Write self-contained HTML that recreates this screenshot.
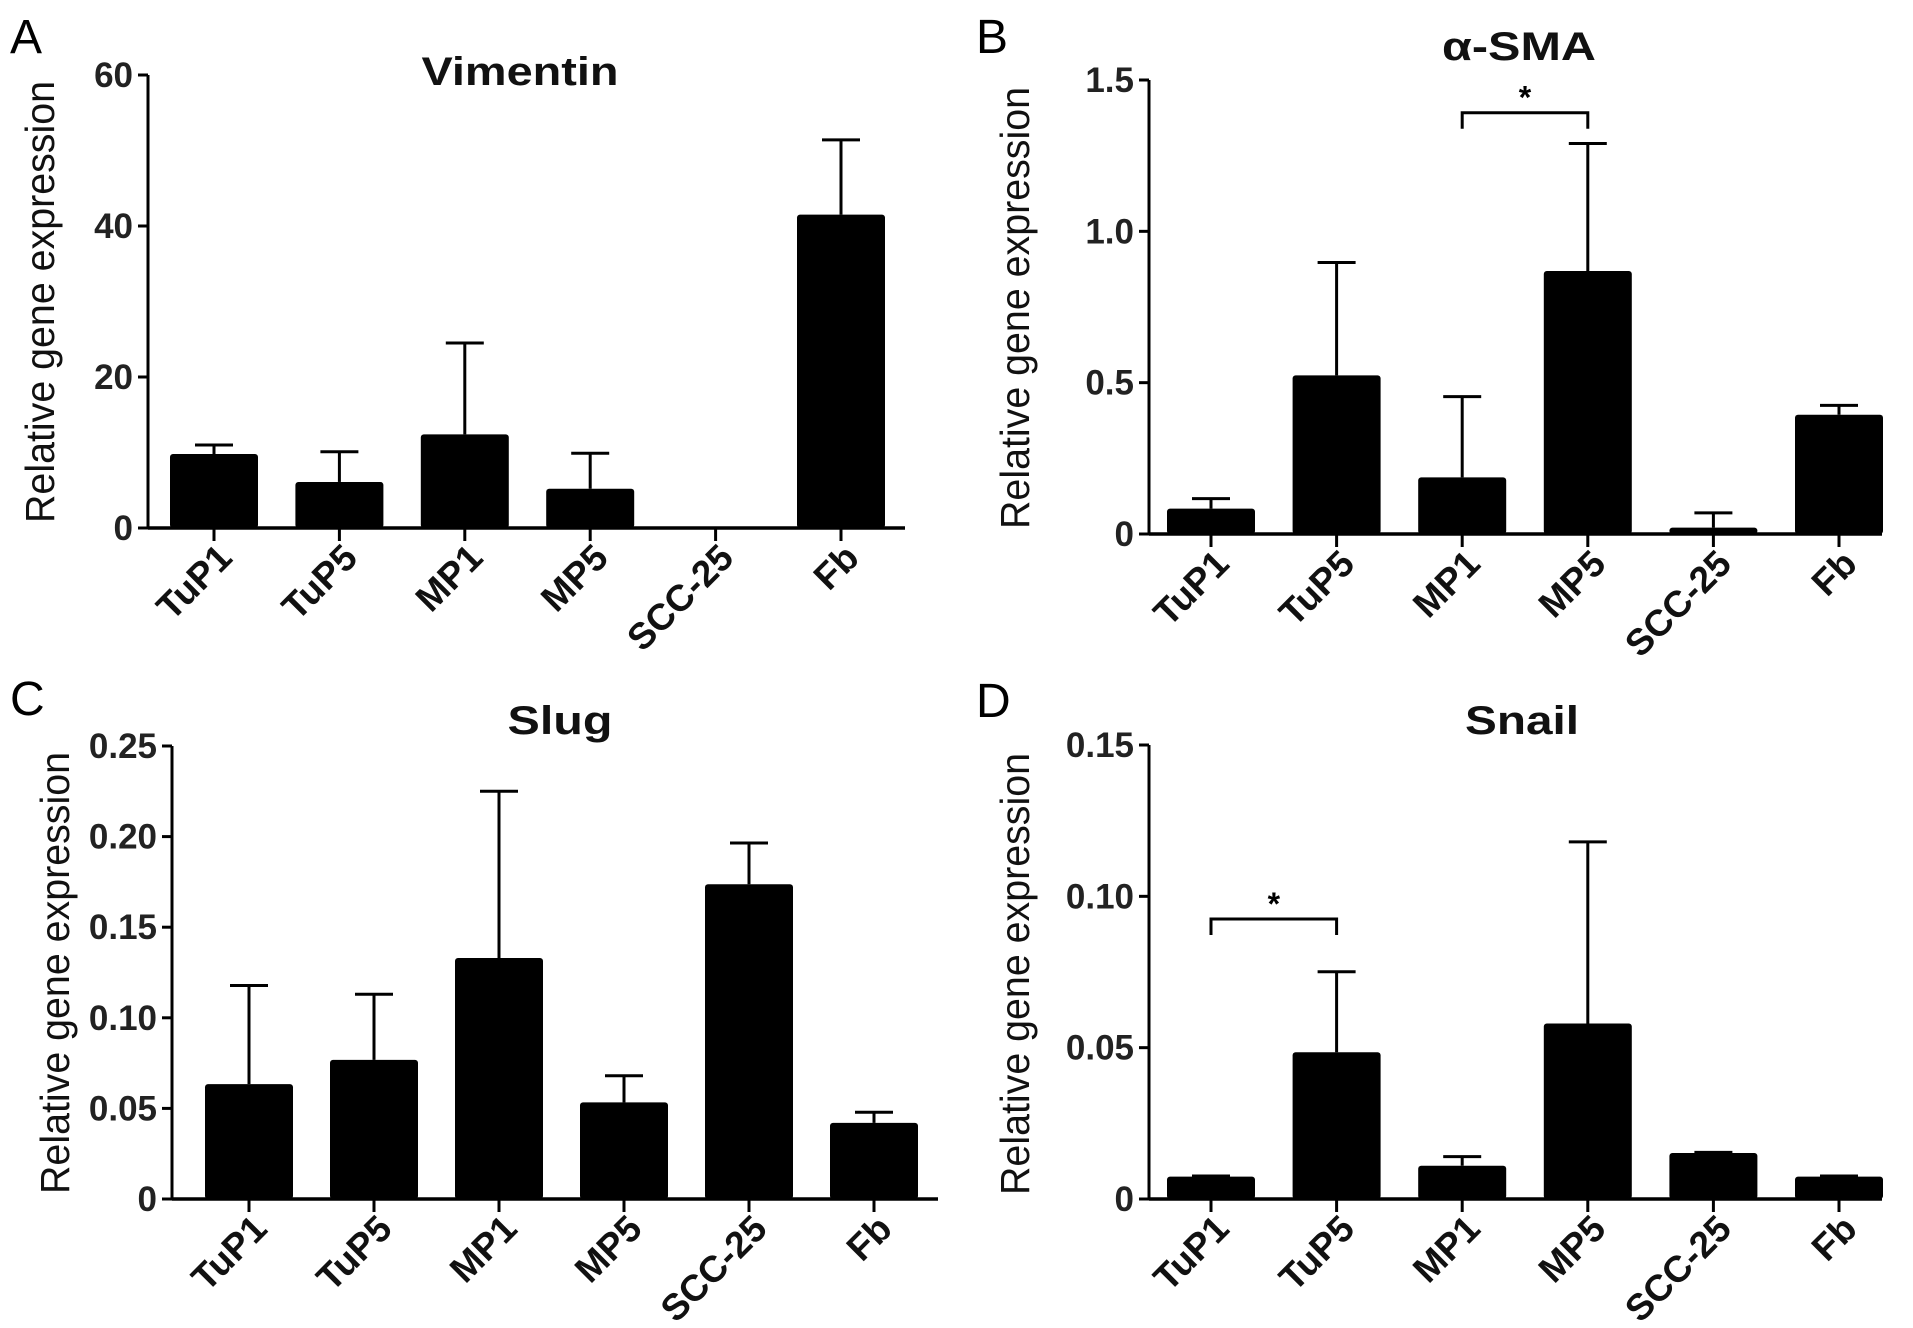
<!DOCTYPE html>
<html><head><meta charset="utf-8"><style>
html,body{margin:0;padding:0;background:#fff;overflow:hidden;}
svg{display:block;font-family:"Liberation Sans",Arial,sans-serif;}
</style></head><body>
<svg id="fig" width="1913" height="1328" viewBox="0 0 1913 1328"></svg>
<script>
const categories = ["TuP1","TuP5","MP1","MP5","SCC-25","Fb"];
const vimentinValues = [9.8, 6.1, 12.4, 5.2, 0, 41.5];
const vimentinErrTop = [11.0, 10.1, 24.5, 9.9, 0, 51.4];
const smaValues = [0.084, 0.524, 0.187, 0.869, 0.021, 0.394];
const smaErrTop = [0.117, 0.897, 0.454, 1.29, 0.070, 0.425];
const slugValues = [0.0634, 0.0768, 0.133, 0.0533, 0.1737, 0.042];
const slugErrTop = [0.1178, 0.113, 0.225, 0.068, 0.1965, 0.0479];
const snailValues = [0.0074, 0.0485, 0.011, 0.058, 0.0152, 0.0074];
const snailErrTop = [0.0076, 0.0751, 0.014, 0.118, 0.0154, 0.0076];
const vimentinTicks = [0, 20, 40, 60];
const vimentinTickLabels = ["0","20","40","60"];
const smaTicks = [0, 0.5, 1.0, 1.5];
const smaTickLabels = ["0","0.5","1.0","1.5"];
const slugTicks = [0, 0.05, 0.10, 0.15, 0.20, 0.25];
const slugTickLabels = ["0","0.05","0.10","0.15","0.20","0.25"];
const snailTicks = [0, 0.05, 0.10, 0.15];
const snailTickLabels = ["0","0.05","0.10","0.15"];

const NS = "http://www.w3.org/2000/svg";
const svg = document.getElementById("fig");
function mk(tag, attrs, parent){
  const e = document.createElementNS(NS, tag);
  for (const k in attrs) e.setAttribute(k, attrs[k]);
  (parent||svg).appendChild(e);
  return e;
}

function panel(cfg){
  const g = mk("g", {});
  
  
  const yScale = v => cfg.y0 - v / cfg.ymax * (cfg.y0 - cfg.ytop);
  const xScale = i => cfg.x1 + i * cfg.dx;

  const L = mk("text", {x: cfg.lx, y: cfg.ly, "font-size": 48, fill: "#000"}, g);
  L.textContent = cfg.letter;
  
  
  const T = mk("text", {x: cfg.tx, y: cfg.ty, "font-size": 40, "font-weight": "bold", "text-anchor": "middle", fill: "#111",
    textLength: cfg.tw, lengthAdjust: "spacingAndGlyphs"}, g);
  T.textContent = cfg.title;
  
  
  const Y = mk("text", {x: 0, y: 0, "font-size": 41, "text-anchor": "middle", fill: "#111",
    transform: `translate(${cfg.ytx},${cfg.yty}) rotate(-90)`, textLength: 442, lengthAdjust: "spacingAndGlyphs"}, g);
  Y.textContent = "Relative gene expression";
  
  

  cfg.values.forEach((v, i) => {
    const cx = xScale(i);
    const top = yScale(v);
    if (v > 0) {
      const r = mk("rect", {x: cx - 44, y: top, width: 88, height: cfg.y0 - top, fill: "#000", rx: 3}, g);
      
      
    }
    const et = yScale(cfg.err[i]);
    if (cfg.err[i] > v + 1e-9) {
      const l = mk("line", {x1: cx, x2: cx, y1: top, y2: et, stroke: "#000", "stroke-width": 3}, g);
      
      
      const c = mk("line", {x1: cx - 19, x2: cx + 19, y1: et, y2: et, stroke: "#000", "stroke-width": 3}, g);
      
      
    }
    const t = mk("line", {x1: cx, x2: cx, y1: cfg.y0, y2: cfg.y0 + 13, stroke: "#000", "stroke-width": 3}, g);
    
    
    const lab = mk("text", {x: 0, y: 0, "font-size": 37, "font-weight": "bold", "text-anchor": "end", fill: "#111",
      transform: `translate(${cx + 20},${cfg.y0 + 32}) rotate(-45)`}, g);
    lab.textContent = categories[i];
    
    
  });

  const ya = mk("line", {x1: cfg.ax, x2: cfg.ax, y1: cfg.ytop, y2: cfg.y0 + 1.5, stroke: "#000", "stroke-width": 3}, g);
  
  
  const xa = mk("line", {x1: cfg.ax, x2: cfg.xend, y1: cfg.y0, y2: cfg.y0, stroke: "#000", "stroke-width": 3.5}, g);
  
  
  cfg.ticks.forEach((tv, k) => {
    const y = yScale(tv);
    const t = mk("line", {x1: cfg.ax - 10, x2: cfg.ax, y1: y, y2: y, stroke: "#000", "stroke-width": 3}, g);
    
    
    const s = mk("text", {x: cfg.ax - 15, y: y + 12, "font-size": 35, "font-weight": "bold", "text-anchor": "end", fill: "#222"}, g);
    s.textContent = cfg.tickLabels[k];
    
    
  });

  if (cfg.sig) {
    const xa1 = xScale(cfg.sig[0]), xa2 = xScale(cfg.sig[1]), yb = yScale(cfg.sig[2]);
    const p = mk("path", {d: `M${xa1},${yb + 16} V${yb} H${xa2} V${yb + 16}`, fill: "none", stroke: "#000", "stroke-width": 3}, g);
    
    
    const st = mk("text", {x: (xa1 + xa2) / 2, y: yb - 4, "font-size": 32, "font-weight": "bold", "text-anchor": "middle", fill: "#000"}, g);
    st.textContent = "*";
    
    
  }
}

panel({name:"panel-a-vimentin", letter:"A", lx:10, ly:53, title:"Vimentin", tx:520, ty:85, tw:197,
  ytx:54, yty:302, ax:148, y0:528, ytop:75, ymax:60, xend:905, x1:214, dx:125.4,
  values: vimentinValues, err: vimentinErrTop, ticks: vimentinTicks, tickLabels: vimentinTickLabels});
panel({name:"panel-b-alpha-sma", letter:"B", lx:976, ly:53, title:"\u03b1-SMA", tx:1519, ty:60, tw:154,
  ytx:1029, yty:308, ax:1149, y0:534, ytop:80, ymax:1.5, xend:1882, x1:1211, dx:125.6,
  values: smaValues, err: smaErrTop, ticks: smaTicks, tickLabels: smaTickLabels, sig:[2,3,1.392]});
panel({name:"panel-c-slug", letter:"C", lx:10, ly:715, title:"Slug", tx:560, ty:734, tw:105,
  ytx:69, yty:973, ax:172, y0:1199, ytop:746, ymax:0.25, xend:938, x1:249, dx:125,
  values: slugValues, err: slugErrTop, ticks: slugTicks, tickLabels: slugTickLabels});
panel({name:"panel-d-snail", letter:"D", lx:976, ly:717, title:"Snail", tx:1522, ty:734, tw:114,
  ytx:1029, yty:974, ax:1149, y0:1199, ytop:745, ymax:0.15, xend:1882, x1:1211, dx:125.6,
  values: snailValues, err: snailErrTop, ticks: snailTicks, tickLabels: snailTickLabels, sig:[0,1,0.0925]});
</script>
</body></html>
